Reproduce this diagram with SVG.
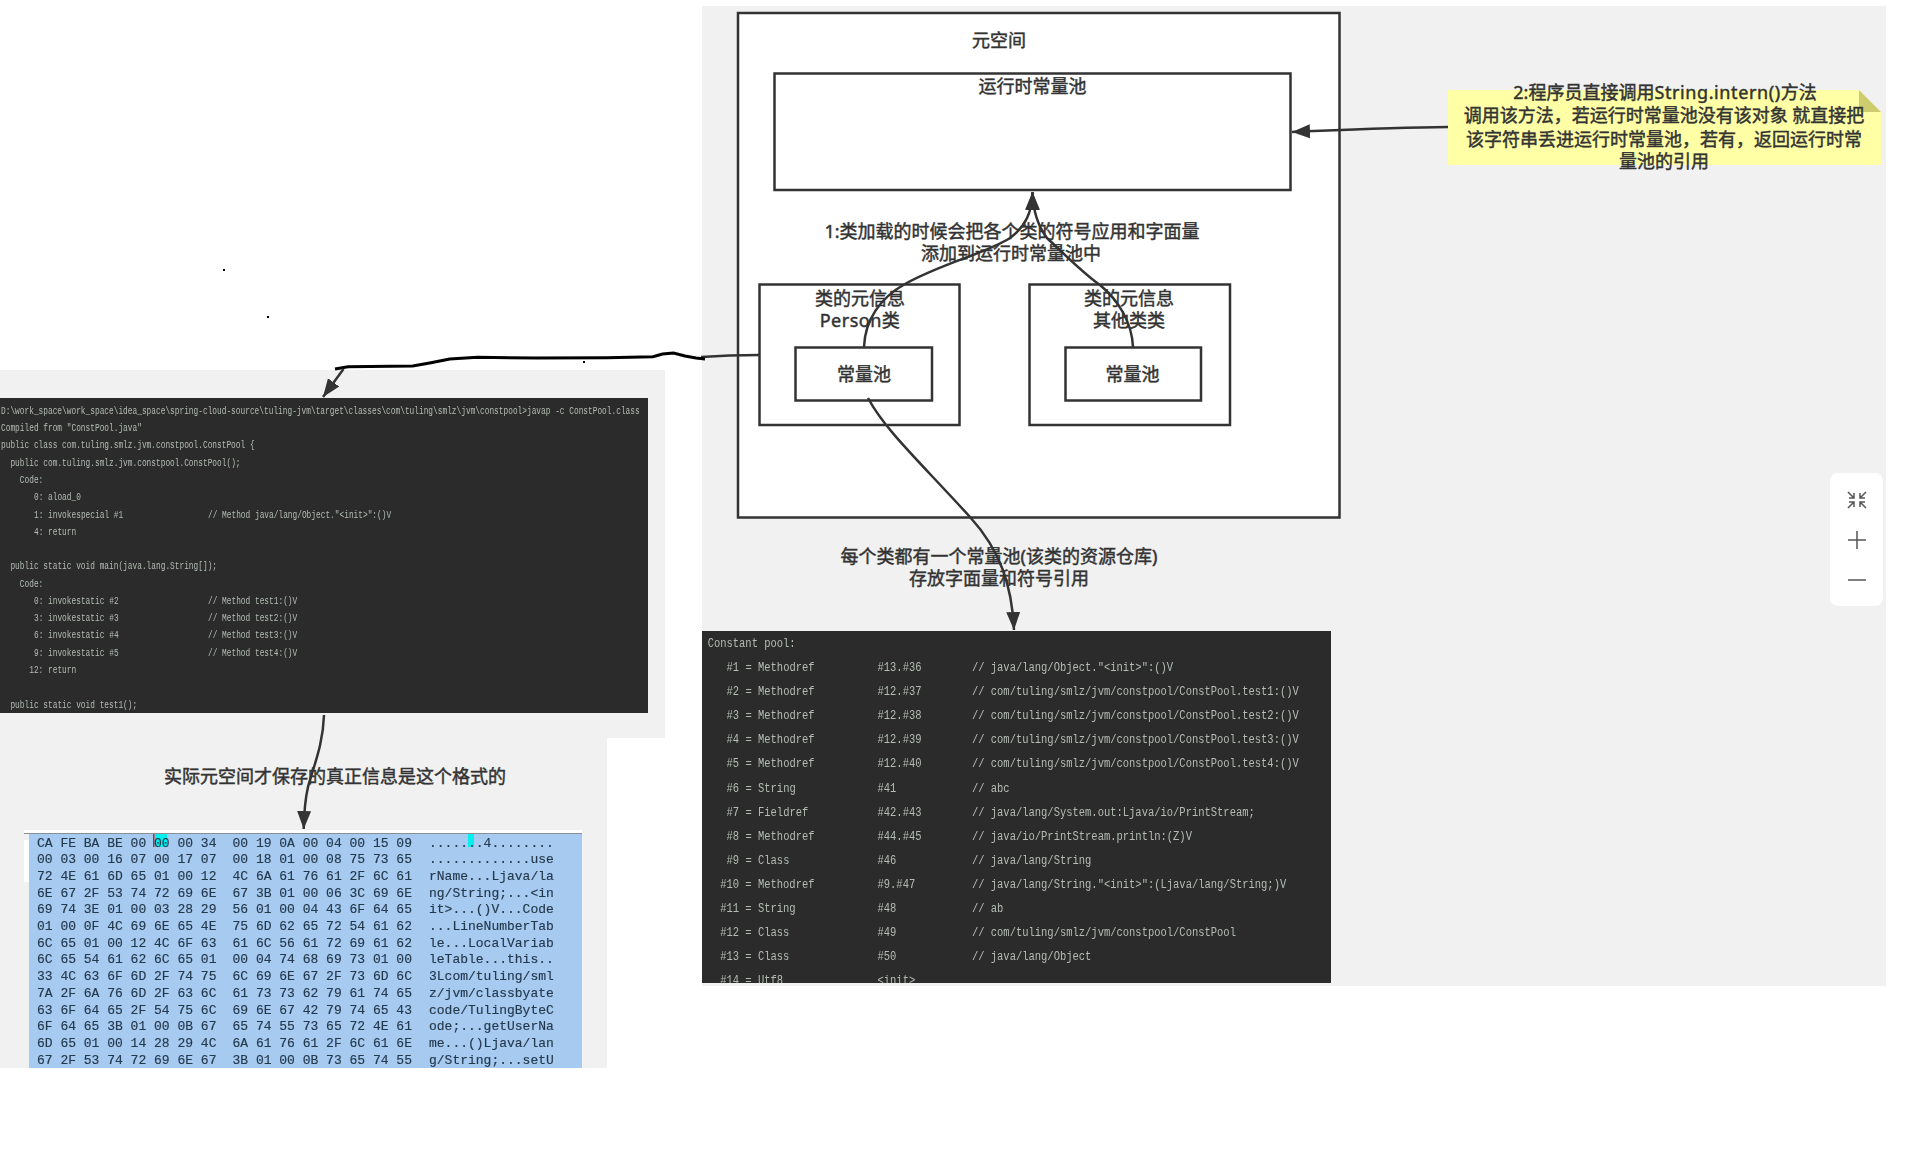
<svg xmlns="http://www.w3.org/2000/svg" width="1916" height="1176" viewBox="0 0 1916 1176">
<style>
.bg{fill:#f1f1f1}
.box{fill:#fff;stroke:#333;stroke-width:2.5}
.lb{font-family:"Noto Sans","Noto Sans CJK SC",sans-serif;font-size:18px;fill:#333;stroke:#333;stroke-width:.45;text-anchor:middle;dominant-baseline:central;transform:translateY(-.8px)}
.dark{fill:#2b2b2b}
.code{font-family:"Liberation Mono",monospace;fill:#b4bcb4}
.c1{font-size:10px}
.c2{font-size:13.06px}
.hex{font-family:"Liberation Mono",monospace;font-size:13px;fill:#24384c;stroke:#24384c;stroke-width:.15}
.ln{fill:none;stroke:#333;stroke-width:2.5}
.hand{fill:none;stroke:#000;stroke-width:3}
.ic{fill:none;stroke:#555;stroke-width:1.5}
</style>
<defs>
<marker id="arr" markerUnits="userSpaceOnUse" markerWidth="19" markerHeight="16" refX="18" refY="8" orient="auto"><path d="M0,1 L18,8 L0,15 Z" fill="#333"/></marker>
<clipPath id="cp"><rect x="702" y="631" width="629" height="352"/></clipPath>
<filter id="soft" x="-5%" y="-5%" width="110%" height="110%"><feGaussianBlur stdDeviation="0.35"/></filter>
</defs>

<g id="backgrounds">
<rect class="bg" x="702" y="6" width="1184" height="980"/>
<rect class="bg" x="0" y="370" width="665" height="368"/>
<rect class="bg" x="0" y="738" width="607" height="330"/>
</g>

<g id="metaspace"><rect class="box" x="738" y="13" width="601.5" height="504.5"/><text class="lb" x="999" y="41">元空间</text></g>
<g id="runtime-pool"><rect class="box" x="774.5" y="73.5" width="516" height="116.5"/><text class="lb" x="1032.5" y="87">运行时常量池</text></g>
<g id="class-person"><rect class="box" x="759.500" y="284.5" width="200" height="140.500"/><text class="lb" x="860" y="299">类的元信息</text><text class="lb" x="860" y="321" letter-spacing=".5">Person类</text></g>
<g id="pool-person"><rect class="box" x="795.500" y="347.500" width="136.500" height="53"/><text class="lb" x="864" y="375">常量池</text></g>
<g id="class-other"><rect class="box" x="1029.500" y="284.500" width="200.500" height="140.500"/><text class="lb" x="1129" y="299">类的元信息</text><text class="lb" x="1129" y="321">其他类类</text></g>
<g id="pool-other"><rect class="box" x="1065.500" y="347.500" width="135.500" height="53"/><text class="lb" x="1132.500" y="375">常量池</text></g>

<g id="note">
<path d="M1448,90 H1859 L1881,112 V165 H1448 Z" fill="#ffffa6"/>
<path d="M1859,90 L1881,112 H1859 Z" fill="#cdcd70"/>
<text class="lb" x="1665" y="93">2:程序员直接调用<tspan letter-spacing=".6">String.intern()</tspan>方法</text>
<text class="lb" x="1664" y="116">调用该方法，若运行时常量池没有该对象 就直接把</text>
<text class="lb" x="1664" y="140">该字符串丢进运行时常量池，若有，返回运行时常</text>
<text class="lb" x="1664" y="162">量池的引用</text>
</g>

<g id="label-load"><text class="lb" x="1012" y="232">1:类加载的时候会把各个类的符号应用和字面量</text><text class="lb" x="1011" y="254">添加到运行时常量池中</text></g>
<g id="label-pool"><text class="lb" x="999" y="557">每个类都有一个常量池(该类的资源仓库)</text><text class="lb" x="999" y="579">存放字面量和符号引用</text></g>
<g id="label-real"><text class="lb" x="335" y="777">实际元空间才保存的真正信息是这个格式的</text></g>

<g id="bytecode-panel">
<rect class="dark" x="0" y="398" width="648" height="315"/>
<g class="code c1" transform="scale(.784 1)" filter="url(#soft)">
<text x="1.3" y="414">D:\work_space\work_space\idea_space\spring-cloud-source\tuling-jvm\target\classes\com\tuling\smlz\jvm\constpool&gt;javap -c ConstPool.class</text>
<text x="1.3" y="431.300">Compiled from "ConstPool.java"</text>
<text x="1.3" y="448.500">public class com.tuling.smlz.jvm.constpool.ConstPool {</text>
<text x="13.3" y="465.800">public com.tuling.smlz.jvm.constpool.ConstPool();</text>
<text x="25.3" y="483.100">Code:</text>
<text x="43.3" y="500.400">0: aload_0</text>
<text y="517.600"><tspan x="43.3">1: invokespecial #1</tspan><tspan x="265.3">// Method java/lang/Object."&lt;init&gt;":()V</tspan></text>
<text x="43.3" y="534.900">4: return</text>
<text x="13.3" y="569.400">public static void main(java.lang.String[]);</text>
<text x="25.3" y="586.700">Code:</text>
<text y="604"><tspan x="43.3">0: invokestatic</tspan><tspan x="139.3">#2</tspan><tspan x="265.3">// Method test1:()V</tspan></text>
<text y="621.200"><tspan x="43.3">3: invokestatic</tspan><tspan x="139.3">#3</tspan><tspan x="265.3">// Method test2:()V</tspan></text>
<text y="638.500"><tspan x="43.3">6: invokestatic</tspan><tspan x="139.3">#4</tspan><tspan x="265.3">// Method test3:()V</tspan></text>
<text y="655.800"><tspan x="43.3">9: invokestatic</tspan><tspan x="139.3">#5</tspan><tspan x="265.3">// Method test4:()V</tspan></text>
<text x="37.3" y="673">12: return</text>
<text x="13.3" y="707.600">public static void test1();</text>
</g>
</g>

<g id="constant-pool-panel">
<rect class="dark" x="702" y="631" width="629" height="352"/>
<g clip-path="url(#cp)">
<g class="code c2" transform="translate(-2 0) scale(.803 1)" filter="url(#soft)">
<text x="883.750" y="647">Constant pool:</text>
<text y="671.100"><tspan x="907.300">#1 = Methodref</tspan><tspan x="1095.300">#13.#36</tspan><tspan x="1212.900">// java/lang/Object."&lt;init&gt;":()V</tspan></text>
<text y="695.200"><tspan x="907.300">#2 = Methodref</tspan><tspan x="1095.300">#12.#37</tspan><tspan x="1212.900">// com/tuling/smlz/jvm/constpool/ConstPool.test1:()V</tspan></text>
<text y="719.300"><tspan x="907.300">#3 = Methodref</tspan><tspan x="1095.300">#12.#38</tspan><tspan x="1212.900">// com/tuling/smlz/jvm/constpool/ConstPool.test2:()V</tspan></text>
<text y="743.400"><tspan x="907.300">#4 = Methodref</tspan><tspan x="1095.300">#12.#39</tspan><tspan x="1212.900">// com/tuling/smlz/jvm/constpool/ConstPool.test3:()V</tspan></text>
<text y="767.500"><tspan x="907.300">#5 = Methodref</tspan><tspan x="1095.300">#12.#40</tspan><tspan x="1212.900">// com/tuling/smlz/jvm/constpool/ConstPool.test4:()V</tspan></text>
<text y="791.600"><tspan x="907.300">#6 = String</tspan><tspan x="1095.300">#41</tspan><tspan x="1212.900">// abc</tspan></text>
<text y="815.700"><tspan x="907.300">#7 = Fieldref</tspan><tspan x="1095.300">#42.#43</tspan><tspan x="1212.900">// java/lang/System.out:Ljava/io/PrintStream;</tspan></text>
<text y="839.800"><tspan x="907.300">#8 = Methodref</tspan><tspan x="1095.300">#44.#45</tspan><tspan x="1212.900">// java/io/PrintStream.println:(Z)V</tspan></text>
<text y="863.900"><tspan x="907.300">#9 = Class</tspan><tspan x="1095.300">#46</tspan><tspan x="1212.900">// java/lang/String</tspan></text>
<text y="888"><tspan x="899.400">#10 = Methodref</tspan><tspan x="1095.300">#9.#47</tspan><tspan x="1212.900">// java/lang/String."&lt;init&gt;":(Ljava/lang/String;)V</tspan></text>
<text y="912.100"><tspan x="899.400">#11 = String</tspan><tspan x="1095.300">#48</tspan><tspan x="1212.900">// ab</tspan></text>
<text y="936.200"><tspan x="899.400">#12 = Class</tspan><tspan x="1095.300">#49</tspan><tspan x="1212.900">// com/tuling/smlz/jvm/constpool/ConstPool</tspan></text>
<text y="960.300"><tspan x="899.400">#13 = Class</tspan><tspan x="1095.300">#50</tspan><tspan x="1212.900">// java/lang/Object</tspan></text>
<text y="984.400"><tspan x="899.400">#14 = Utf8</tspan><tspan x="1095.300">&lt;init&gt;</tspan></text>
</g>
</g>
</g>

<g id="hex-panel">
<rect x="24" y="830" width="558" height="3" fill="#fff"/>
<rect x="24" y="840" width="5" height="42" fill="#fff"/>
<rect x="24" y="833" width="558" height="1" fill="#8a8f94"/>
<rect x="29" y="834" width="553" height="234" fill="#a6caf0"/>
<rect x="155" y="834" width="12" height="13" fill="#00f0f0"/>
<rect x="468" y="834" width="6" height="13" fill="#00f0f0"/>
<rect x="153" y="834" width="1.500" height="13" fill="#a03030"/>
<g class="hex" filter="url(#soft)">
<text x="37" y="846.500">CA FE BA BE 00 00 00 34</text><text x="232.500" y="846.500">00 19 0A 00 04 00 15 09</text><text x="429" y="846.500">.......4........</text>
<text x="37" y="863.200">00 03 00 16 07 00 17 07</text><text x="232.500" y="863.200">00 18 01 00 08 75 73 65</text><text x="429" y="863.200">.............use</text>
<text x="37" y="879.900">72 4E 61 6D 65 01 00 12</text><text x="232.500" y="879.900">4C 6A 61 76 61 2F 6C 61</text><text x="429" y="879.900">rName...Ljava/la</text>
<text x="37" y="896.600">6E 67 2F 53 74 72 69 6E</text><text x="232.500" y="896.600">67 3B 01 00 06 3C 69 6E</text><text x="429" y="896.600">ng/String;...&lt;in</text>
<text x="37" y="913.300">69 74 3E 01 00 03 28 29</text><text x="232.500" y="913.300">56 01 00 04 43 6F 64 65</text><text x="429" y="913.300">it&gt;...()V...Code</text>
<text x="37" y="930">01 00 0F 4C 69 6E 65 4E</text><text x="232.500" y="930">75 6D 62 65 72 54 61 62</text><text x="429" y="930">...LineNumberTab</text>
<text x="37" y="946.700">6C 65 01 00 12 4C 6F 63</text><text x="232.500" y="946.700">61 6C 56 61 72 69 61 62</text><text x="429" y="946.700">le...LocalVariab</text>
<text x="37" y="963.400">6C 65 54 61 62 6C 65 01</text><text x="232.500" y="963.400">00 04 74 68 69 73 01 00</text><text x="429" y="963.400">leTable...this..</text>
<text x="37" y="980.100">33 4C 63 6F 6D 2F 74 75</text><text x="232.500" y="980.100">6C 69 6E 67 2F 73 6D 6C</text><text x="429" y="980.100">3Lcom/tuling/sml</text>
<text x="37" y="996.800">7A 2F 6A 76 6D 2F 63 6C</text><text x="232.500" y="996.800">61 73 73 62 79 61 74 65</text><text x="429" y="996.800">z/jvm/classbyate</text>
<text x="37" y="1013.500">63 6F 64 65 2F 54 75 6C</text><text x="232.500" y="1013.500">69 6E 67 42 79 74 65 43</text><text x="429" y="1013.500">code/TulingByteC</text>
<text x="37" y="1030.200">6F 64 65 3B 01 00 0B 67</text><text x="232.500" y="1030.200">65 74 55 73 65 72 4E 61</text><text x="429" y="1030.200">ode;...getUserNa</text>
<text x="37" y="1046.900">6D 65 01 00 14 28 29 4C</text><text x="232.500" y="1046.900">6A 61 76 61 2F 6C 61 6E</text><text x="429" y="1046.900">me...()Ljava/lan</text>
<text x="37" y="1063.600">67 2F 53 74 72 69 6E 67</text><text x="232.500" y="1063.600">3B 01 00 0B 73 65 74 55</text><text x="429" y="1063.600">g/String;...setU</text>
</g>
</g>

<g id="connectors">
<path class="ln" marker-end="url(#arr)" d="M864,347 C865,320 880,298 905,284 C945,262 985,254 1010,238 C1026,226 1032,212 1032.500,192"/>
<path class="ln" marker-end="url(#arr)" d="M1133,347 C1132,322 1118,300 1100,285 C1085,275 1062,252 1047,238 C1038,226 1033,212 1032.500,192"/>
<path class="ln" marker-end="url(#arr)" d="M1448,127 C1390,127.500 1340,130 1292,132"/>
<path class="ln" marker-end="url(#arr)" d="M868,398 C885,430 920,462 970,517 C1000,550 1012,585 1014,630"/>
<path class="ln" d="M759,355 C735,355 715,356 701,357"/>
<path class="hand" d="M705,359 L696,358 L685,356 L673.500,353 L662.500,354 L653,356.700 L607,357.700 L536.700,358 L477.500,357.300 L449.700,359 L431,362.700 L412.700,366 L348,366.700 L335,369"/>
<path class="ln" marker-end="url(#arr)" d="M343.500,369 L323,397"/>
<path class="ln" marker-end="url(#arr)" d="M324,715 C323,745 314,765 308,787 C305,800 304,815 303.700,829"/>
</g>

<g id="specks" fill="#000">
<rect x="223" y="269" width="2" height="2"/><rect x="267" y="316" width="2" height="2"/><rect x="583" y="361" width="2" height="2"/>
</g>

<g id="zoom-controls">
<rect x="1830" y="473" width="53" height="133" rx="8" fill="#fff"/>
<path class="ic" d="M1848,492 L1854,498 M1854,493 V498 H1849 M1866,492 L1860,498 M1860,493 V498 H1865 M1848,508 L1854,502 M1854,507 V502 H1849 M1866,508 L1860,502 M1860,507 V502 H1865"/>
<path class="ic" d="M1848,540 H1866 M1857,531 V549"/>
<path class="ic" d="M1848,580 H1866"/>
</g>
</svg>
